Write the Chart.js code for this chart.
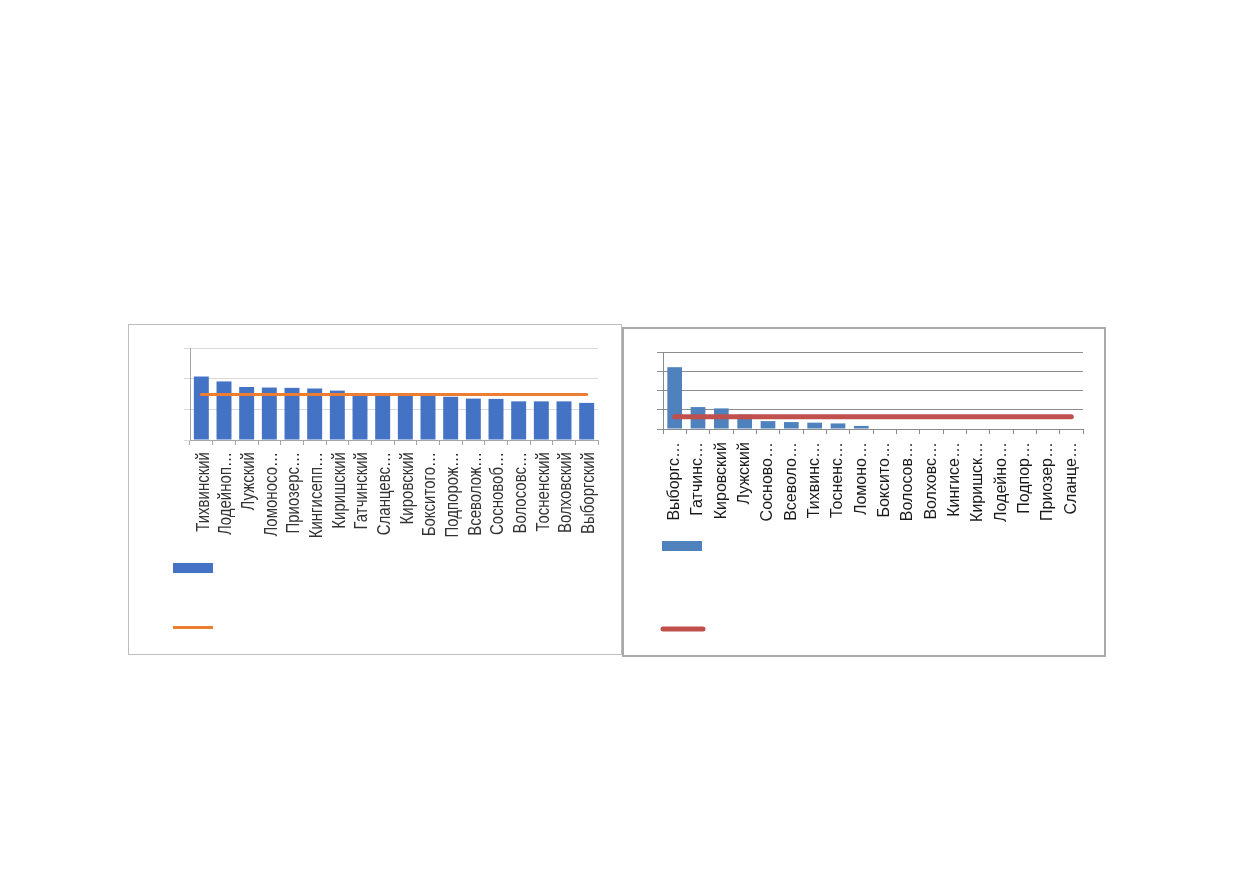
<!DOCTYPE html>
<html>
<head>
<meta charset="utf-8">
<script src="https://cdn.jsdelivr.net/npm/chart.js@4/dist/chart.umd.min.js"></script>
<style>
  html, body { margin: 0; padding: 0; background: #ffffff; }
  body { width: 1239px; height: 872px; position: relative; overflow: hidden; }
  .box { position: absolute; box-sizing: border-box; background: #fff; }
  #boxL { left: 128px; top: 324px; width: 494px; height: 331px; border: 1px solid #bdbdbd; }
  #boxR { left: 622px; top: 327px; width: 484px; height: 330px; border: 2px solid #a9a9a9; }
  canvas { position: absolute; left: 0; top: 0; }
</style>
</head>
<body>
<div class="box" id="boxL"><canvas id="cL" width="492" height="329"></canvas></div>
<div class="box" id="boxR"><canvas id="cR" width="480" height="326"></canvas></div>
<script>
// ---- data: left chart ----
const leftCategories = ["Тихвинский","Лодейноп…","Лужский","Ломоносо…","Приозерс…","Кингисепп…","Киришский","Гатчинский","Сланцевс…","Кировский","Бокситого…","Подпорож…","Всеволож…","Сосновоб…","Волосовс…","Тосненский","Волховский","Выборгский"];
const leftValues = [2.07,1.91,1.73,1.71,1.70,1.68,1.61,1.50,1.48,1.47,1.46,1.41,1.35,1.34,1.26,1.26,1.26,1.21];
const leftAverage = [1.48,1.48,1.48,1.48,1.48,1.48,1.48,1.48,1.48,1.48,1.48,1.48,1.48,1.48,1.48,1.48,1.48,1.48];
const leftYTicks = [0,1,2,3];

// ---- data: right chart ----
const rightCategories = ["Выборгс…","Гатчинс…","Кировский","Лужский","Сосново…","Всеволо…","Тихвинс…","Тосненс…","Ломоно…","Боксито…","Волосов…","Волховс…","Кингисе…","Киришск…","Лодейно…","Подпор…","Приозер…","Сланце…"];
const rightValues = [3.21,1.14,1.07,0.75,0.41,0.36,0.33,0.29,0.16,0,0,0,0,0,0,0,0,0];
const rightAverage = [0.64,0.64,0.64,0.64,0.64,0.64,0.64,0.64,0.64,0.64,0.64,0.64,0.64,0.64,0.64,0.64,0.64,0.64];
const rightYTicks = [0,1,2,3,4];

const FONT = "'Liberation Sans', Arial, sans-serif";

// legend keys (no legend text in the reference)
const legendKeys = {
  id: 'legendKeys',
  afterDraw(chart, args, opts) {
    const ctx = chart.ctx;
    const ds = chart.data.datasets;
    ctx.save();
    ctx.fillStyle = ds[0].backgroundColor;
    ctx.fillRect(opts.barX, opts.barY, 40, 10);
    ctx.strokeStyle = ds[1].borderColor;
    ctx.lineWidth = ds[1].borderWidth;
    ctx.lineCap = opts.cap;
    ctx.beginPath();
    ctx.moveTo(opts.lineX1, opts.lineY);
    ctx.lineTo(opts.lineX2, opts.lineY);
    ctx.stroke();
    ctx.restore();
  }
};

// draws the rotated category labels with a condensed look (glyphs taller than wide)
const stretchLabels = {
  id: 'stretchLabels',
  afterLayout(chart, args, opts) {
    const s = opts.factor || 1;
    const sc = chart.scales.x;
    sc.drawLabels = function (chartArea) {
      const ctx = this.ctx;
      const items = this.getLabelItems(chartArea);
      for (const item of items) {
        const o = item.options;
        ctx.save();
        ctx.translate(o.translation[0], o.translation[1]);
        ctx.rotate(o.rotation);
        ctx.scale(1, s);
        ctx.font = item.font.string;
        ctx.fillStyle = o.color;
        ctx.textAlign = o.textAlign;
        ctx.textBaseline = o.textBaseline;
        ctx.fillText(item.label, 0, item.textOffset || 0);
        ctx.restore();
      }
    };
  }
};

function makeChart(id, cfg) {
  return new Chart(document.getElementById(id), {
    type: 'bar',
    data: {
      labels: cfg.labels,
      datasets: [
        { type: 'bar', data: cfg.values, backgroundColor: cfg.barColor, borderWidth: 0,
          categoryPercentage: 1.0, barPercentage: cfg.barPct, order: 1 },
        { type: 'line', data: cfg.avg, borderColor: cfg.lineColor, borderWidth: cfg.lineWidth,
          borderCapStyle: 'round', pointRadius: 0, fill: false, tension: 0, order: 0 }
      ]
    },
    options: {
      responsive: false,
      animation: false,
      devicePixelRatio: 1,
      layout: { padding: { left: 0, right: cfg.padRight, top: cfg.padTop, bottom: 0 } },
      plugins: {
        legend: { display: false },
        tooltip: { enabled: false },
        legendKeys: cfg.legend,
        stretchLabels: { factor: cfg.stretch }
      },
      scales: {
        x: {
          offset: true,
          grid: { display: true, drawOnChartArea: false, drawTicks: true, tickLength: 5, color: cfg.tickColor, offset: true },
          border: { display: true, color: cfg.axisColor, width: 1 },
          ticks: { autoSkip: false, minRotation: 90, maxRotation: 90, padding: cfg.labelPad,
                   color: cfg.labelColor, font: { family: FONT, size: cfg.fontSize } },
          afterFit(scale) { scale.height = cfg.xHeight; }
        },
        y: {
          min: cfg.yTicks[0], max: cfg.yTicks[cfg.yTicks.length - 1],
          afterBuildTicks(scale) { scale.ticks = cfg.yTicks.map(v => ({ value: v })); },
          grid: { color: cfg.gridColor, drawTicks: true, tickLength: 6 },
          border: { display: true, color: cfg.axisColor, width: 1 },
          ticks: { display: false },
          afterFit(scale) { scale.width = cfg.yWidth; }
        }
      }
    },
    plugins: [legendKeys, stretchLabels]
  });
}

makeChart('cL', {
  labels: leftCategories, values: leftValues, avg: leftAverage, yTicks: leftYTicks,
  barColor: '#4472C4', lineColor: '#ED7D31', lineWidth: 3, barPct: 0.66,
  padRight: 23, padTop: 23, yWidth: 61, xHeight: 214, labelPad: 7,
  fontSize: 15, stretch: 1.24, labelColor: '#333333',
  gridColor: '#d9d9d9', axisColor: '#a6a6a6', tickColor: '#a6a6a6',
  legend: { barX: 44, barY: 238, lineX1: 44, lineX2: 84, lineY: 302.5, cap: 'butt' }
});

makeChart('cR', {
  labels: rightCategories, values: rightValues, avg: rightAverage, yTicks: rightYTicks,
  barColor: '#4F81BD', lineColor: '#C0504D', lineWidth: 5, barPct: 0.63,
  padRight: 21, padTop: 23, yWidth: 39, xHeight: 226, labelPad: 8,
  fontSize: 16, stretch: 1, labelColor: '#1a1a1a',
  gridColor: '#8c8c8c', axisColor: '#8c8c8c', tickColor: '#8c8c8c',
  legend: { barX: 38, barY: 212, lineX1: 39, lineX2: 79, lineY: 300, cap: 'round' }
});
</script>
</body>
</html>
